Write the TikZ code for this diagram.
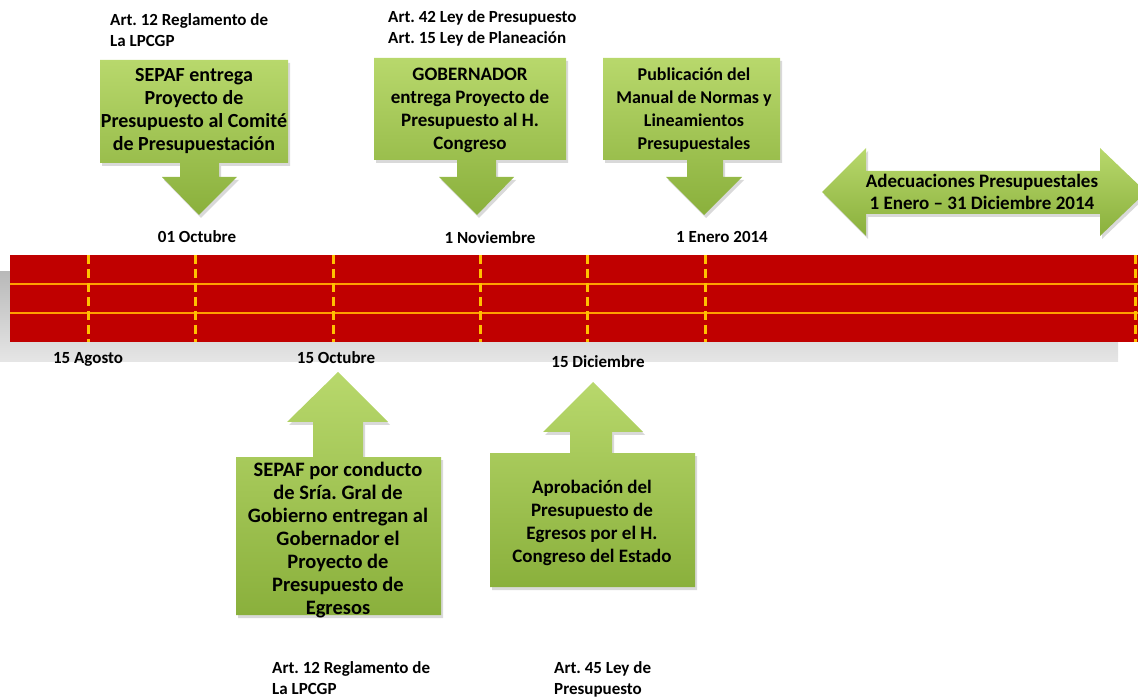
\documentclass[tikz,border=0pt]{standalone}
\usepackage{fontspec}
\setmainfont{Carlito}
\usetikzlibrary{shadows}
\definecolor{barred}{HTML}{C00000}
\definecolor{lineorange}{HTML}{FFA000}
\definecolor{dashyellow}{HTML}{FFC000}
\definecolor{greenlt}{HTML}{B8D86C}
\definecolor{greendk}{HTML}{8AB03C}
\frenchspacing
\begin{document}
\begin{tikzpicture}[x=1pt,y=-1pt,
	callout/.style={top color=greenlt,bottom color=greendk,drop shadow={opacity=.3,shadow xshift=2pt,shadow yshift=-3pt}},
	boxtxt/.style={font=\fontsize{19}{23}\selectfont\bfseries,align=center,inner sep=0pt},
	lbl/.style={font=\fontsize{17}{21}\selectfont\bfseries,inner sep=0pt},
	datemark/.style={dashyellow,line width=3pt,dash pattern=on 9pt off 5pt}]
	\useasboundingbox (0,0) rectangle (1138,700);
	% timeline bar
	\shade[top color=gray!55,bottom color=gray!20] (0,272) rectangle (1118,362);
	\fill[barred] (10,255) rectangle (1138,342);
	\draw[lineorange,line width=1.5pt] (10,284) -- (1138,284);
	\draw[lineorange,line width=1.5pt] (10,313) -- (1138,313);
	\foreach \x in {88,195,333,480,587,705,1135}
		\draw[datemark] (\x,255) -- (\x,342);
	% callouts above
	\path[callout] (100,60) -- (288,60) -- (288,163) -- (219,163) -- (219,177) -- (237,177) -- (199,215) -- (162,177) -- (180,177) -- (180,163) -- (100,163) -- cycle;
	\node[boxtxt,font=\fontsize{20}{23}\selectfont\bfseries] (sepaf) at (194,111) {SEPAF entrega\\Proyecto de\\Presupuesto al Comité\\de Presupuestación};
	\path[callout] (374,58) -- (566,58) -- (566,160) -- (496,160) -- (496,177) -- (514,177) -- (477,215) -- (439,177) -- (457,177) -- (457,160) -- (374,160) -- cycle;
	\node[boxtxt] (gober) at (470,110) {GOBERNADOR\\entrega Proyecto de\\Presupuesto al H.\\Congreso};
	\path[callout] (603,58) -- (780,58) -- (780,160) -- (723,160) -- (723,177) -- (742,177) -- (704,215) -- (666,177) -- (687,177) -- (687,160) -- (603,160) -- cycle;
	\node[boxtxt,font=\fontsize{18}{23}\selectfont\bfseries] (manual) at (694,110) {Publicación del\\Manual de Normas y\\Lineamientos\\Presupuestales};
	\path[callout] (822,192) -- (866,148) -- (866,171) -- (1100,171) -- (1100,148) -- (1146,192) -- (1100,236) -- (1100,214) -- (866,214) -- (866,236) -- cycle;
	\node[boxtxt,font=\fontsize{19}{22}\selectfont\bfseries] (adec) at (982,192) {Adecuaciones Presupuestales\\1 Enero – 31 Diciembre 2014};
	% callouts below
	\path[callout] (236,457) -- (313,457) -- (313,422) -- (287,422) -- (338,372) -- (388,422) -- (363,422) -- (363,457) -- (441,457) -- (441,615) -- (236,615) -- cycle;
	\node[boxtxt,font=\fontsize{20.5}{23}\selectfont\bfseries] (conducto) at (338,540) {SEPAF por conducto\\de Sría. Gral de\\Gobierno entregan al\\Gobernador el\\Proyecto de\\Presupuesto de\\Egresos};
	\path[callout] (490,453) -- (570,453) -- (570,432) -- (543,432) -- (593,382) -- (643,432) -- (612,432) -- (612,453) -- (695,453) -- (695,587) -- (490,587) -- cycle;
	\node[boxtxt] (aprob) at (592,523) {Aprobación del\\Presupuesto de\\Egresos por el H.\\Congreso del Estado};
	% dates
	\node[lbl] (oct01) at (197,237) {01 Octubre};
	\node[lbl] (nov01) at (490,238) {1 Noviembre};
	\node[lbl] (ene01) at (722,237) {1 Enero 2014};
	\node[lbl] (ago15) at (88,359) {15 Agosto};
	\node[lbl] (oct15) at (336,358) {15 Octubre};
	\node[lbl] (dic15) at (598,362) {15 Diciembre};
	% legal references
	\node[lbl,anchor=north west,align=left] (artA) at (110,13) {Art. 12 Reglamento de\\La LPCGP};
	\node[lbl,anchor=north west,align=left] (artB) at (388,10) {Art. 42 Ley de Presupuesto\\Art. 15 Ley de Planeación};
	\node[lbl,anchor=north west,align=left] (artC) at (272,661) {Art. 12 Reglamento de\\La LPCGP};
	\node[lbl,anchor=north west,align=left] (artD) at (554,661) {Art. 45 Ley de\\Presupuesto};
\end{tikzpicture}
\end{document}
